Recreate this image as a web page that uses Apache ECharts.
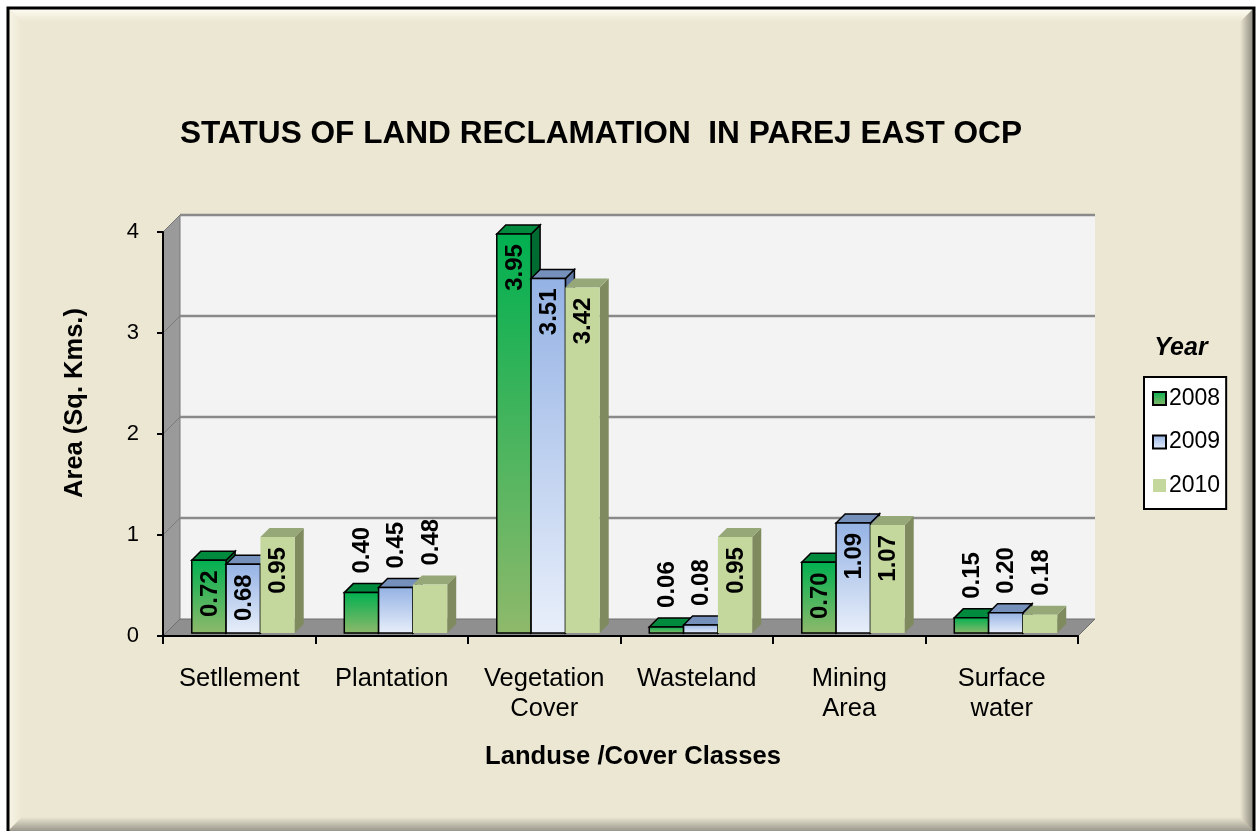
<!DOCTYPE html>
<html>
<head>
<meta charset="utf-8">
<script src="https://cdn.jsdelivr.net/npm/echarts@6/dist/echarts.min.js"></script>
<style>
html,body{margin:0;padding:0;background:#fff;}
#chart{width:1258px;height:831px;}
</style>
</head>
<body>
<div id="chart"></div>
<script>
const categories = ['Setllement', 'Plantation', 'Vegetation\nCover', 'Wasteland', 'Mining\nArea', 'Surface\nwater'];
const years = ['2008', '2009', '2010'];
const values2008 = [0.72, 0.40, 3.95, 0.06, 0.70, 0.15];
const values2009 = [0.68, 0.45, 3.51, 0.08, 1.09, 0.20];
const values2010 = [0.95, 0.48, 3.42, 0.95, 1.07, 0.18];
const yTicks = [0, 1, 2, 3, 4];
const titleText = 'STATUS OF LAND RECLAMATION  IN PAREJ EAST OCP';
const xName = 'Landuse /Cover Classes';
const yName = 'Area (Sq. Kms.)';
const legendTitle = 'Year';

const FONT = "'Liberation Sans', Arial, sans-serif";
const BG = '#ECE7D2';
const seriesValues = [values2008, values2009, values2010];

function vgrad(top, bottom) {
  return new echarts.graphic.LinearGradient(0, 0, 0, 1, [
    { offset: 0, color: top }, { offset: 1, color: bottom }
  ]);
}
const styles = [
  { front: ['#00B050', '#8FB96B'], top: '#008A3E', side: '#006C31', stroke: '#000' },
  { front: ['#94B2E4', '#E8EFFA'], top: '#7690BC', side: '#5E78A3', stroke: '#000' },
  { front: ['#C4D79C', '#C4D79C'], top: '#97A878', side: '#7F8B5F', stroke: null }
];

const chart = echarts.init(document.getElementById('chart'), null, { renderer: 'canvas' });

function wallRender(params, api) {
  const cs = params.coordSys;
  const x = cs.x, y = cs.y, w = cs.width, h = cs.height, D = 17;
  const children = [];
  children.push({ type: 'rect', shape: { x: x + D, y: y - D, width: w, height: h }, style: { fill: '#F3F3F3' } });
  children.push({ type: 'polygon', shape: { points: [[x, y], [x + D, y - D], [x + D, y + h - D], [x, y + h]] }, style: { fill: '#9A9A9A', stroke: '#7A7A7A', lineWidth: 1 } });
  yTicks.forEach(function (v) {
    if (v === 0) return;
    const yv = api.coord([0, v])[1];
    children.push({ type: 'line', shape: { x1: x + D, y1: yv - D, x2: x + w + D, y2: yv - D }, style: { stroke: '#8A8A8A', lineWidth: 2.5 } });
    children.push({ type: 'line', shape: { x1: x, y1: yv, x2: x + D, y2: yv - D }, style: { stroke: '#7A7A7A', lineWidth: 1 } });
  });
  children.push({ type: 'polygon', shape: { points: [[x, y + h], [x + D, y + h - D], [x + w + D, y + h - D], [x + w, y + h]] }, style: { fill: '#8F8F8F', stroke: '#6E6E6E', lineWidth: 1 } });
  return { type: 'group', children: children };
}

function makeBarRender(k) {
  const st = styles[k];
  return function (params, api) {
    const cat = api.value(0), val = api.value(1);
    const base = api.coord([cat, 0]);
    const tp = api.coord([cat, val]);
    const band = api.size([1, 0])[0];
    const bw = band * 0.225;
    const sx = 4, sy = -3, d = 9;
    const x0 = base[0] + sx + (k - 1.5) * bw;
    const x1 = x0 + bw;
    const yb = base[1] + sy;
    const yt = tp[1] + sy;
    const strokeStyle = st.stroke ? { stroke: st.stroke, lineWidth: 1.5 } : {};
    const children = [
      { type: 'polygon', shape: { points: [[x1, yt], [x1 + d, yt - d], [x1 + d, yb - d], [x1, yb]] }, style: Object.assign({ fill: st.side }, strokeStyle) },
      { type: 'polygon', shape: { points: [[x0, yt], [x0 + d, yt - d], [x1 + d, yt - d], [x1, yt]] }, style: Object.assign({ fill: st.top }, strokeStyle) },
      { type: 'rect', shape: { x: x0, y: yt, width: bw, height: yb - yt }, style: Object.assign({ fill: vgrad(st.front[0], st.front[1]) }, strokeStyle) }
    ];
    const inside = val >= 0.6;
    children.push({
      type: 'text',
      x: (x0 + x1) / 2 + 1,
      y: inside ? yt + 10 : yt - 19,
      rotation: Math.PI / 2,
      style: {
        text: val.toFixed(2),
        fill: '#000',
        font: 'bold 24px ' + FONT,
        align: inside ? 'right' : 'left',
        verticalAlign: 'middle'
      },
      z2: 10
    });
    return { type: 'group', children: children };
  };
}

const series = [{
  type: 'custom',
  name: 'walls',
  renderItem: wallRender,
  data: [[0, 0]],
  clip: false,
  silent: true,
  z: 1
}];
years.forEach(function (yr, k) {
  series.push({
    type: 'custom',
    name: yr,
    renderItem: makeBarRender(k),
    data: seriesValues[k].map(function (v, i) { return [i, v]; }),
    clip: false,
    z: 3,
    itemStyle: {
      color: vgrad(styles[k].front[0], styles[k].front[1]),
      borderColor: styles[k].stroke || 'transparent',
      borderWidth: styles[k].stroke ? 1.5 : 0
    }
  });
});

// frame graphics
const FX = 8, FY = 8, FW = 1246, FH = 835, B = 14;
const frame = [
  { type: 'rect', z: -20, shape: { x: FX, y: FY, width: FW, height: FH }, style: { fill: BG } },
  { type: 'polygon', z: -19, shape: { points: [[FX, FY], [FX + FW, FY], [FX + FW - B, FY + B], [FX + B, FY + B]] },
    style: { fill: new echarts.graphic.LinearGradient(0, 0, 0, 1, [{ offset: 0, color: '#FFFDF4' }, { offset: 1, color: BG }]) } },
  { type: 'polygon', z: -19, shape: { points: [[FX, FY], [FX + B, FY + B], [FX + B, FY + FH - B], [FX, FY + FH]] },
    style: { fill: new echarts.graphic.LinearGradient(0, 0, 1, 0, [{ offset: 0, color: '#F8F5E8' }, { offset: 1, color: BG }]) } },
  { type: 'polygon', z: -19, shape: { points: [[FX + FW, FY], [FX + FW, FY + FH], [FX + FW - B, FY + FH - B], [FX + FW - B, FY + B]] },
    style: { fill: new echarts.graphic.LinearGradient(0, 0, 1, 0, [{ offset: 0, color: BG }, { offset: 1, color: '#86837A' }]) } },
  { type: 'polygon', z: -19, shape: { points: [[FX, 831], [FX + FW, 831], [FX + FW - B, 817], [FX + B, 817]] },
    style: { fill: new echarts.graphic.LinearGradient(0, 0, 0, 1, [{ offset: 0, color: BG }, { offset: 1, color: '#9A978C' }]) } },
  { type: 'rect', z: -18, shape: { x: FX, y: FY, width: FW, height: FH }, style: { fill: 'none', stroke: '#000', lineWidth: 3 } },
  { type: 'text', z: 100, x: 601, y: 134, style: { text: titleText, font: 'bold 31.6px ' + FONT, fill: '#000', align: 'center', verticalAlign: 'middle' } },
  { type: 'text', z: 100, x: 633, y: 757, style: { text: xName, font: 'bold 25.6px ' + FONT, fill: '#000', align: 'center', verticalAlign: 'middle' } },
  { type: 'text', z: 100, x: 75, y: 403, rotation: Math.PI / 2, style: { text: yName, font: 'bold 25.5px ' + FONT, fill: '#000', align: 'center', verticalAlign: 'middle' } },
  { type: 'text', z: 100, x: 1181, y: 348, style: { text: legendTitle, font: 'italic bold 25px ' + FONT, fill: '#000', align: 'center', verticalAlign: 'middle' } }
];

const option = {
  backgroundColor: '#fff',
  animation: false,
  textStyle: { fontFamily: FONT },
  graphic: { elements: frame },
  grid: { left: 163, right: 180, top: 232, bottom: 195, containLabel: false },
  legend: {
    data: years.map(function (y) { return { name: y, icon: 'rect' }; }),
    orient: 'vertical',
    left: 1144,
    top: 377,
    backgroundColor: '#fff',
    borderColor: '#000',
    borderWidth: 2,
    borderRadius: 0,
    padding: [10, 6, 12, 8],
    itemGap: 20.5,
    itemWidth: 13,
    itemHeight: 13,
    selectedMode: false,
    textStyle: { fontSize: 23, color: '#000', fontFamily: FONT, padding: [0, 0, 0, -2] }
  },
  xAxis: {
    type: 'category',
    data: categories,
    z: 5,
    axisLine: { show: true, lineStyle: { color: '#000', width: 2 } },
    axisTick: { show: true, length: 8, interval: 0, lineStyle: { color: '#000', width: 2 } },
    axisLabel: { interval: 0, fontSize: 25.5, color: '#000', margin: 28, lineHeight: 30, fontFamily: FONT },
    splitLine: { show: false }
  },
  yAxis: {
    type: 'value',
    min: 0,
    max: 4,
    interval: 1,
    z: 5,
    axisLine: { show: true, lineStyle: { color: '#000', width: 2 } },
    axisTick: { show: true, length: 6, lineStyle: { color: '#000', width: 2 } },
    axisLabel: { fontSize: 22, color: '#000', margin: 24, fontFamily: FONT },
    splitLine: { show: false }
  },
  series: series
};
chart.setOption(option);
</script>
</body>
</html>
